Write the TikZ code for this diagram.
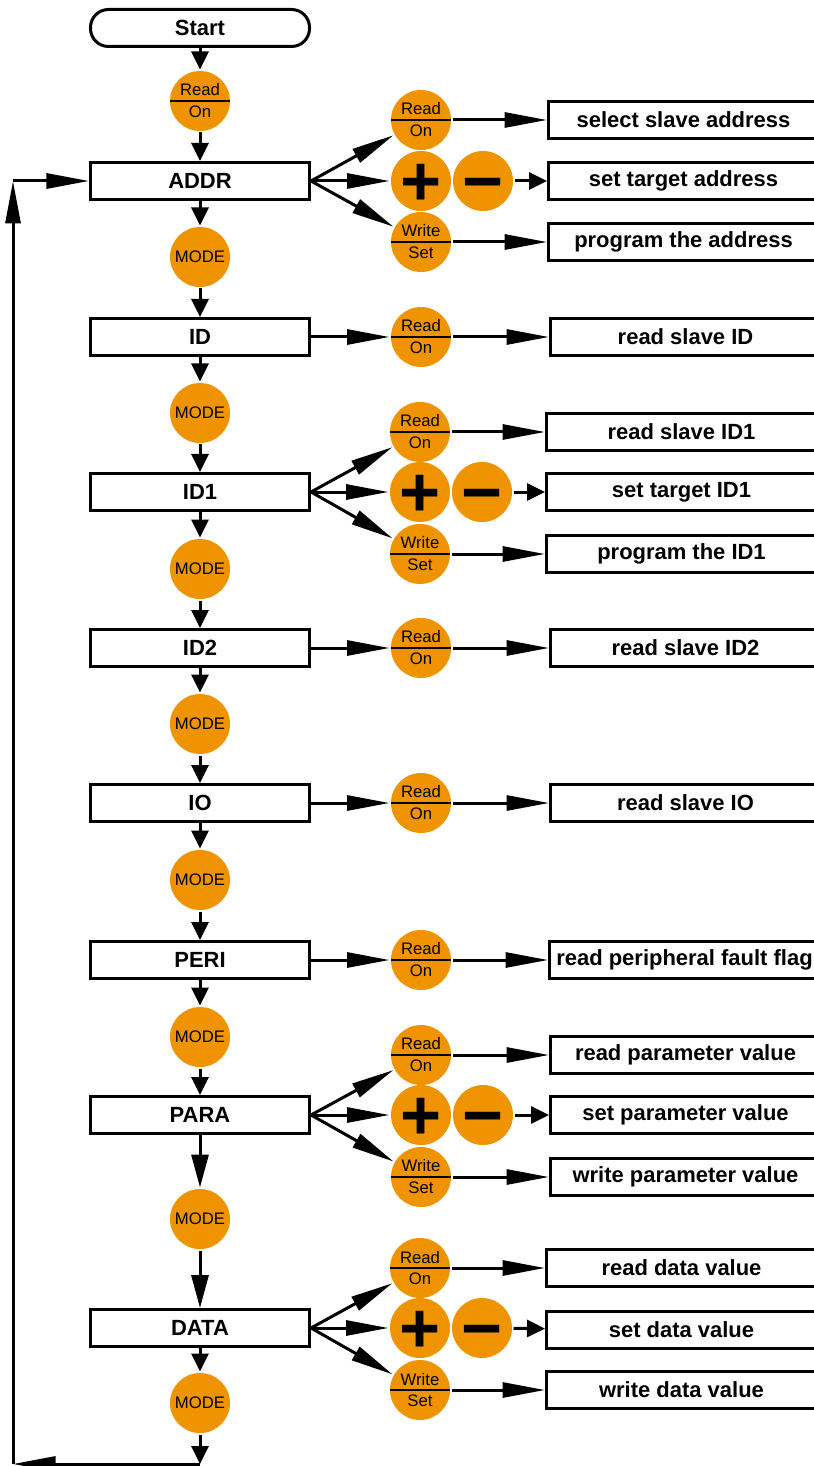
\documentclass[tikz,border=0pt]{standalone}
\usepackage{fontspec}
\setmainfont{Liberation Sans}
\usetikzlibrary{arrows.meta}
\definecolor{keyorange}{RGB}{239,148,0}

\begin{document}
\begin{tikzpicture}[x=0.2mm,y=-0.2mm,line width=0.6mm,
  >={Triangle[length=3.6mm,width=3.4mm]},
  long/.style={-{Triangle[length=8.5mm,width=3mm]}},
  vlong/.style={-{Triangle[length=6.6mm,width=3.4mm]}},
  menu/.style={draw,minimum width=43.8mm,minimum height=7.4mm,inner sep=0pt,font=\fontsize{12.5}{14}\selectfont\bfseries},
  result/.style={draw,anchor=west,minimum width=54mm,minimum height=7.4mm,inner sep=1pt,font=\fontsize{12.5}{14}\selectfont\bfseries},
  key/.style={circle,fill=keyorange,minimum size=12mm,inner sep=0pt,font=\fontsize{9.5}{12.5}\selectfont,align=center},
  split/.style={key,path picture={\draw[line width=0.3mm] (path picture bounding box.west) -- (path picture bounding box.east);}},
  pm/.style={key,text height=28pt,text depth=0pt,inner sep=-4pt,font=\fontsize{40}{40}\selectfont\bfseries}]
\useasboundingbox (0,0) rectangle (814,1466);
\clip (0,0) rectangle (814,1466);

% main column
\node[menu,rounded corners=3.6mm] (start) at (200,28) {Start};
\node[split] (rd0) at (200,101) {Read\\On};
\node[menu] (addr) at (200,181) {ADDR};
\node[key] (m1) at (200,257) {MODE};
\node[menu] (id) at (200,337) {ID};
\node[key] (m2) at (200,413) {MODE};
\node[menu] (idA) at (200,492) {ID1};
\node[key] (m3) at (200,569) {MODE};
\node[menu] (idB) at (200,648) {ID2};
\node[key] (m4) at (200,724) {MODE};
\node[menu] (io) at (200,803) {IO};
\node[key] (m5) at (200,880) {MODE};
\node[menu] (peri) at (200,960) {PERI};
\node[key] (m6) at (200,1037) {MODE};
\node[menu] (para) at (200,1115) {PARA};
\node[key] (m7) at (200,1219) {MODE};
\node[menu] (data) at (200,1328) {DATA};
\node[key] (m8) at (200,1403) {MODE};

\draw[->] (start) -- (rd0);
\draw[->] (rd0) -- (addr);
\draw[->] (addr) -- (m1);
\draw[->] (m1) -- (id);
\draw[->] (id) -- (m2);
\draw[->] (m2) -- (idA);
\draw[->] (idA) -- (m3);
\draw[->] (m3) -- (idB);
\draw[->] (idB) -- (m4);
\draw[->] (m4) -- (io);
\draw[->] (io) -- (m5);
\draw[->] (m5) -- (peri);
\draw[->] (peri) -- (m6);
\draw[->] (m6) -- (para);
\draw[vlong] (para) -- (m7);
\draw[vlong] (m7) -- (data);
\draw[->] (data) -- (m8);

% return loop
\coordinate (loopS) at (200,1464);
\coordinate (loopL) at (13,1464);
\coordinate (loopT) at (13,181);
\draw[->] (m8) -- (loopS);
\draw[long] (loopS) -- (loopL);
\draw[long] (loopL) -- (loopT);
\draw[long] (loopT) -- (addr);

% ADDR
\node[split] (addrR) at (421,120) {Read\\On};
\node[pm] (addrP) at (421,181) {+};
\node[pm] (addrM) at (483,181) {−};
\node[split] (addrW) at (421,242) {Write\\Set};
\node[result] (addrT1) at (547,120) {select slave address};
\node[result] (addrT2) at (547,181) {set target address};
\node[result] (addrT3) at (547,242) {program the address};
\draw[long] (addr.east) -- (addrR);
\draw[long] (addr.east) -- (addrP);
\draw[long] (addr.east) -- (addrW);
\draw[long] (addrR) -- (addrT1);
\draw[->] (addrM) -- (addrT2);
\draw[long] (addrW) -- (addrT3);

% ID
\node[split] (idR) at (421,337) {Read\\On};
\node[result] (idT) at (549,337) {read slave ID};
\draw[long] (id) -- (idR);
\draw[long] (idR) -- (idT);

% ID1
\node[split] (idAR) at (420,432) {Read\\On};
\node[pm] (idAP) at (420,492) {+};
\node[pm] (idAM) at (482,492) {−};
\node[split] (idAW) at (420,554) {Write\\Set};
\node[result] (idAT1) at (545,432) {read slave ID1};
\node[result] (idAT2) at (545,492) {set target ID1};
\node[result] (idAT3) at (545,554) {program the ID1};
\draw[long] (idA.east) -- (idAR);
\draw[long] (idA.east) -- (idAP);
\draw[long] (idA.east) -- (idAW);
\draw[long] (idAR) -- (idAT1);
\draw[->] (idAM) -- (idAT2);
\draw[long] (idAW) -- (idAT3);

% ID2
\node[split] (idBR) at (421,648) {Read\\On};
\node[result] (idBT) at (549,648) {read slave ID2};
\draw[long] (idB) -- (idBR);
\draw[long] (idBR) -- (idBT);

% IO
\node[split] (ioR) at (421,803) {Read\\On};
\node[result] (ioT) at (549,803) {read slave IO};
\draw[long] (io) -- (ioR);
\draw[long] (ioR) -- (ioT);

% PERI
\node[split] (periR) at (421,960) {Read\\On};
\node[result] (periT) at (548,960) {read peripheral fault flag};
\draw[long] (peri) -- (periR);
\draw[long] (periR) -- (periT);

% PARA
\node[split] (paraR) at (421,1055) {Read\\On};
\node[pm] (paraP) at (421,1115) {+};
\node[pm] (paraM) at (483,1115) {−};
\node[split] (paraW) at (421,1177) {Write\\Set};
\node[result] (paraT1) at (549,1055) {read parameter value};
\node[result] (paraT2) at (549,1115) {set parameter value};
\node[result] (paraT3) at (549,1177) {write parameter value};
\draw[long] (para.east) -- (paraR);
\draw[long] (para.east) -- (paraP);
\draw[long] (para.east) -- (paraW);
\draw[long] (paraR) -- (paraT1);
\draw[->] (paraM) -- (paraT2);
\draw[long] (paraW) -- (paraT3);

% DATA
\node[split] (dataR) at (420,1268) {Read\\On};
\node[pm] (dataP) at (420,1328) {+};
\node[pm] (dataM) at (482,1328) {−};
\node[split] (dataW) at (420,1390) {Write\\Set};
\node[result] (dataT1) at (545,1268) {read data value};
\node[result] (dataT2) at (545,1330) {set data value};
\node[result] (dataT3) at (545,1390) {write data value};
\draw[long] (data.east) -- (dataR);
\draw[long] (data.east) -- (dataP);
\draw[long] (data.east) -- (dataW);
\draw[long] (dataR) -- (dataT1);
\draw[->] (dataM) -- (dataT2);
\draw[long] (dataW) -- (dataT3);
\end{tikzpicture}
\end{document}
